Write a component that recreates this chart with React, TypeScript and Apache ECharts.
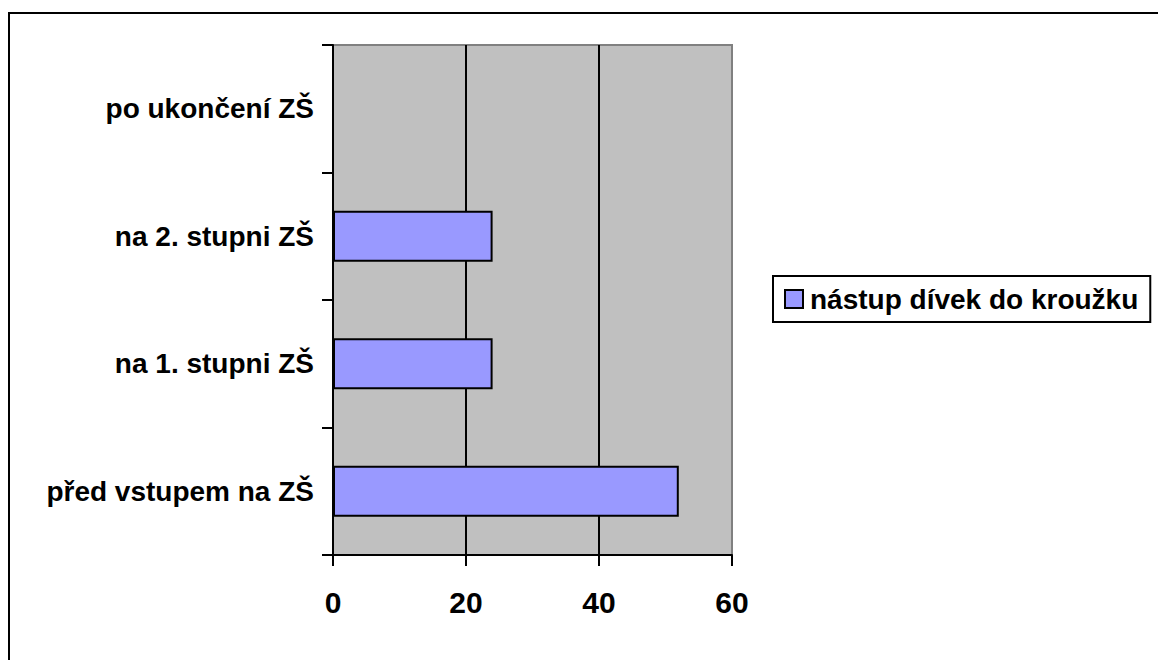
import React, { useEffect, useRef } from "react";
import * as echarts from "echarts";

const categories = ["před vstupem na ZŠ", "na 1. stupni ZŠ", "na 2. stupni ZŠ", "po ukončení ZŠ"];
const seriesName = "nástup dívek do kroužku";
const values = [52, 24, 24, 0];
const xMin = 0;
const xMax = 60;
const xInterval = 20;

const FONT = "'Liberation Sans', Arial, sans-serif";

export default function App() {
  const ref = useRef<HTMLDivElement>(null);
  useEffect(() => {
    if (!ref.current) return;
    document.body.style.margin = "0";
    document.body.style.overflow = "hidden";
    document.documentElement.style.overflow = "hidden";
    const chart = echarts.init(ref.current, undefined, { renderer: "svg" });
    chart.setOption({
      animation: false,
      backgroundColor: "#ffffff",
      textStyle: { fontFamily: FONT },
      graphic: [
        {
          type: "line",
          shape: { x1: 9, y1: 12, x2: 9, y2: 660 },
          style: { stroke: "#000000", lineWidth: 2 },
          silent: true,
          z: 0,
        },
        {
          type: "line",
          shape: { x1: 8, y1: 13, x2: 1158, y2: 13 },
          style: { stroke: "#000000", lineWidth: 2 },
          silent: true,
          z: 0,
        },
      ],
      grid: {
        left: 333,
        right: 1159 - 732,
        top: 45,
        bottom: 660 - 555,
        show: true,
        backgroundColor: "#C0C0C0",
        borderColor: "#808080",
        borderWidth: 2,
        containLabel: false,
      },
      legend: {
        show: true,
        data: [{ name: seriesName, icon: "rect" }],
        left: 773,
        top: 276,
        orient: "vertical",
        itemWidth: 18,
        itemHeight: 18,
        itemGap: 0,
        padding: [9, 12, 9, 11],
        borderColor: "#000000",
        borderWidth: 2,
        backgroundColor: "#ffffff",
        textStyle: {
          fontFamily: FONT,
          fontWeight: "bold",
          fontSize: 28,
          color: "#000000",
          padding: [0, 0, 0, 2],
        },
      },
      xAxis: {
        type: "value",
        min: xMin,
        max: xMax,
        interval: xInterval,
        axisLine: { show: true, lineStyle: { color: "#000000", width: 2 } },
        axisTick: { show: true, length: 11, lineStyle: { color: "#000000", width: 2 } },
        axisLabel: {
          show: true,
          margin: 32,
          fontFamily: FONT,
          fontWeight: "bold",
          fontSize: 30,
          color: "#000000",
        },
        splitLine: {
          show: true,
          showMinLine: false,
          showMaxLine: false,
          lineStyle: { color: "#000000", width: 2 },
        },
      },
      yAxis: {
        type: "category",
        data: categories,
        axisLine: { show: true, lineStyle: { color: "#000000", width: 2 } },
        axisTick: { show: true, length: 11, alignWithLabel: false, lineStyle: { color: "#000000", width: 2 } },
        axisLabel: {
          show: true,
          margin: 19,
          fontFamily: FONT,
          fontWeight: "bold",
          fontSize: 28,
          color: "#000000",
        },
        splitLine: { show: false },
      },
      series: [
        {
          name: seriesName,
          type: "bar",
          data: values,
          barCategoryGap: "60%",
          itemStyle: { color: "#9999FF", borderColor: "#000000", borderWidth: 2 },
        },
      ],
    });
    return () => chart.dispose();
  }, []);
  return <div ref={ref} style={{ width: 1159, height: 660 }} />;
}
